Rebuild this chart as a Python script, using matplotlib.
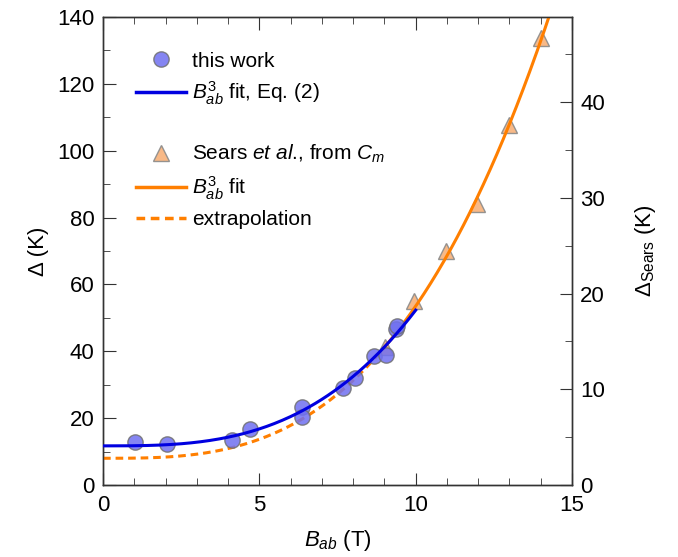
import numpy as np
import matplotlib
matplotlib.use("Agg")
import matplotlib.pyplot as plt
from matplotlib.lines import Line2D

plt.rcParams['font.family'] = ['Liberation Sans', 'DejaVu Sans']
plt.rcParams['mathtext.fontset'] = 'custom'
plt.rcParams['mathtext.rm'] = 'Liberation Sans'
plt.rcParams['mathtext.it'] = 'Liberation Sans:italic'
plt.rcParams['mathtext.bf'] = 'Liberation Sans:bold'

# "this work" data (left axis, K)
B_this = [1.02, 2.06, 4.14, 4.71, 6.35, 6.36, 7.69, 8.05, 8.67, 9.04, 9.36, 9.40]
D_this = [12.9, 12.2, 13.4, 16.7, 23.4, 20.2, 29.1, 32.1, 38.6, 38.9, 46.6, 47.6]

# Sears et al. data (right axis, K)
B_sears = [9.02, 9.95, 10.97, 11.96, 12.98, 14.0]
D_sears = [14.43, 19.2, 24.4, 29.4, 37.6, 46.7]

# fit parameters
a_this, b_this = 11.7, 0.0406        # Delta = a + b B^3 (left units)
a_sears, b_sears = 2.79, 0.0159      # Delta_Sears = a + b B^3 (right units)

xlim = (0, 15)
ylim_left = (0, 140)
ylim_right = (0, 48.9)

fig = plt.figure(figsize=(6.78, 5.57), dpi=100)
ax = fig.add_axes([0.152, 0.1293, 0.6917, 0.8402])
ax2 = ax.twinx()

ax.set_xlim(*xlim)
ax.set_ylim(*ylim_left)
ax2.set_ylim(*ylim_right)

# Sears points (on right axis)
ax2.plot(B_sears, D_sears, linestyle='none', marker='^', markersize=11,
         markerfacecolor='#f8b27a', markeredgecolor='#8a8a8a', markeredgewidth=1.0,
         alpha=0.9, zorder=2)
Bs_solid = np.linspace(9.0, 15, 200)
ax2.plot(Bs_solid, a_sears + b_sears * Bs_solid**3, color='#ff7f00', lw=2.2, zorder=4)
Bs_dash = np.linspace(0, 9.0, 200)
ax2.plot(Bs_dash, a_sears + b_sears * Bs_dash**3, color='#ff7f00', lw=2.2,
         linestyle=(0, (2.5, 1.6)), zorder=4)

ax2.patch.set_visible(False)
ax.set_zorder(ax2.get_zorder() + 1)
ax.patch.set_visible(False)

ax.plot(B_this, D_this, linestyle='none', marker='o', markersize=11,
        markerfacecolor='#7070f0', markeredgecolor='#707070', markeredgewidth=1.0,
        alpha=0.85, zorder=3)
Bt = np.linspace(0, 10, 200)
ax.plot(Bt, a_this + b_this * Bt**3, color='#0000e0', lw=2.2, zorder=3.5)

# ticks
for a in (ax, ax2):
    a.tick_params(which='both', direction='in', labelsize=16, colors='#333333',
                  labelcolor='black')
    for s in a.spines.values():
        s.set_color('#333333')
        s.set_linewidth(1.0)
ax.tick_params(which='major', length=9, top=True, right=False)
ax.tick_params(which='minor', length=5, top=True, right=False)
ax2.tick_params(which='major', length=9)
ax2.tick_params(which='minor', length=5)
ax.set_xticks([0, 5, 10, 15])
ax.set_xticks(np.arange(0, 16, 1), minor=True)
ax.set_yticks(np.arange(0, 141, 20))
ax.set_yticks(np.arange(0, 141, 10), minor=True)
ax2.set_yticks([0, 10, 20, 30, 40])
ax2.set_yticks(np.arange(0, 49, 5), minor=True)
ax.tick_params(axis='x', pad=7)
ax.tick_params(axis='y', pad=6)
ax2.tick_params(axis='y', pad=6)

ax.set_xlabel(r'$B_{ab}$ (T)', fontsize=16, labelpad=9)
ax.set_ylabel('Δ (K)', fontsize=16, labelpad=6)
ax2.set_ylabel(r'$\Delta_{\rm Sears}$ (K)', fontsize=16, labelpad=20)

# legend
handles = [
    Line2D([], [], linestyle='none', marker='o', markersize=11,
           markerfacecolor='#7070f0', markeredgecolor='#707070', alpha=0.85),
    Line2D([], [], color='#0000e0', lw=2.5),
    Line2D([], [], linestyle='none'),
    Line2D([], [], linestyle='none', marker='^', markersize=11,
           markerfacecolor='#f8b27a', markeredgecolor='#8a8a8a', alpha=0.9),
    Line2D([], [], color='#ff7f00', lw=2.5),
    Line2D([], [], color='#ff7f00', lw=2.5, linestyle=(0, (2.5, 1.6))),
]
labels = ['this work', r'$B^3_{ab}$ fit, Eq. (2)', ' ',
          r'Sears $\mathit{et\ al}$., from $C_m$', r'$B^3_{ab}$ fit', 'extrapolation']
leg = ax.legend(handles, labels, loc='upper left', bbox_to_anchor=(0.053, 0.944),
                frameon=False, fontsize=15, handlelength=2.4, handletextpad=0.3,
                labelspacing=0.42, borderaxespad=0.0)

fig.savefig('out.png', dpi=100)
